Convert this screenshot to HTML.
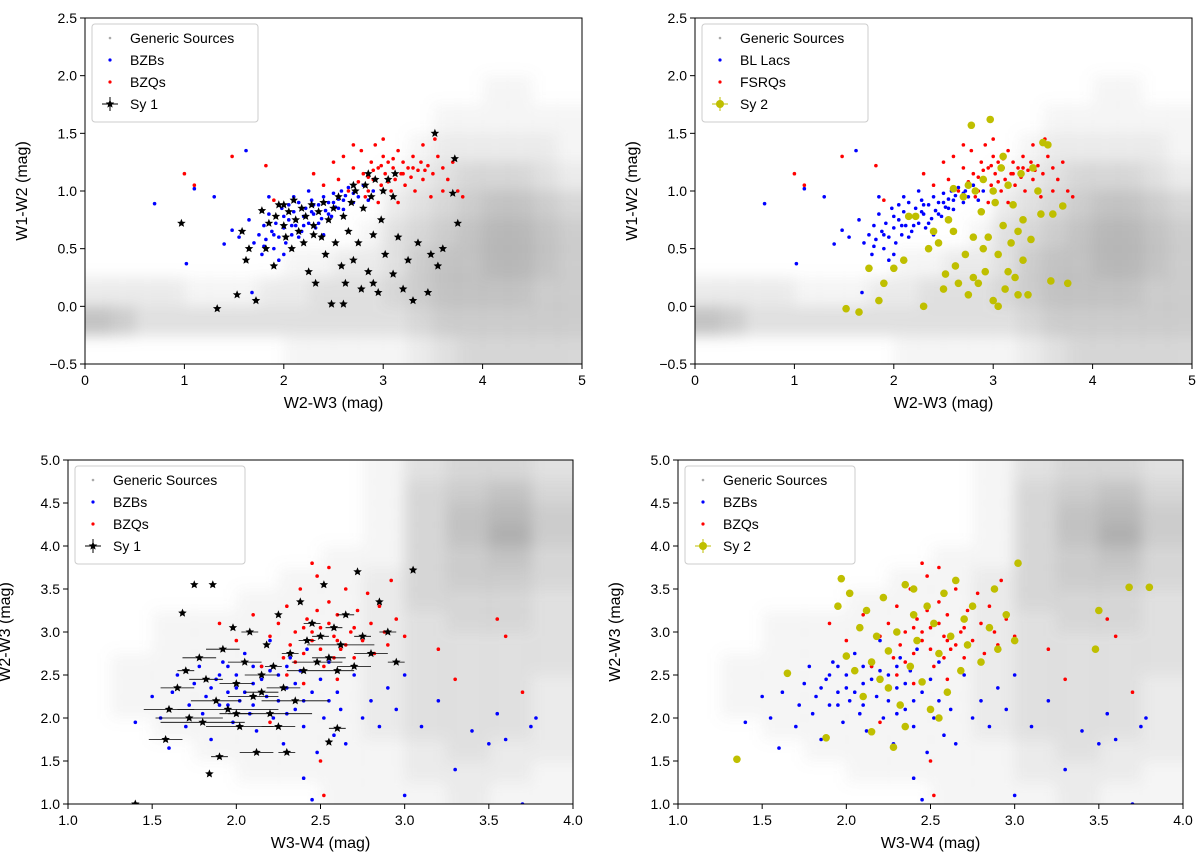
<!DOCTYPE html>
<html><head><meta charset="utf-8"><style>
body{margin:0;background:#fff;}
svg text{font-family:"Liberation Sans","DejaVu Sans",sans-serif;fill:#000;}
</style></head><body>
<svg id="fig" width="1200" height="861" viewBox="0 0 1200 861" xmlns="http://www.w3.org/2000/svg">
<defs><filter id="blur" x="-10%" y="-10%" width="120%" height="120%"><feGaussianBlur stdDeviation="7"/></filter></defs>
</svg>
<script>
// ---- data ----
const genTopDensity=[
[0,0,0,0,0,0,0,0,0,0,0,0,0,0,0,0,0,0,0,0],
[0,0,0,0,0,0,0,0,0,0,0,0,0,0,0,0,0,0,0,0],
[0,0,0,0,0,0,0,0,0,0,0,0,0,0,0,0,1,1,0,0],
[0,0,0,0,0,0,0,0,0,0,0,0,0,0,1,1,1,1,1,1],
[0,0,0,0,0,0,0,0,0,0,0,0,0,1,2,2,2,2,2,1],
[0,0,0,0,0,0,0,0,0,0,0,0,1,2,3,4,4,4,3,2],
[0,0,0,0,0,0,0,0,0,0,0,0,2,3,4,5,6,6,5,4],
[0,0,0,0,0,0,0,0,0,0,0,1,3,4,5,6,7,7,6,5],
[0,0,0,0,0,0,0,0,1,1,2,2,3,5,6,6,7,7,6,5],
[2,2,2,2,1,1,1,2,2,3,3,3,4,5,6,6,6,6,5,5],
[6,5,3,3,3,3,3,3,3,3,3,3,3,4,5,5,5,5,5,5],
[0,0,0,0,0,0,0,0,1,1,1,1,1,2,3,4,4,4,4,4]];
const genBotDensity=[
[0,0,0,0,0,0,0,1,3,4,4,3],
[0,0,0,0,0,0,0,1,4,5,6,4],
[0,0,0,0,0,0,0,1,4,6,7,5],
[0,0,0,0,0,0,0,1,4,6,8,5],
[0,0,0,0,0,0,1,1,4,5,6,4],
[0,0,0,0,0,1,1,2,4,5,5,4],
[0,0,0,0,1,1,1,2,4,4,4,3],
[0,0,1,1,1,1,1,2,3,4,4,3],
[0,0,1,1,1,1,1,2,3,3,3,3],
[0,1,1,1,1,1,1,2,3,3,3,3],
[0,1,1,1,1,1,1,2,3,3,3,2],
[0,1,1,1,1,1,1,2,3,3,3,2],
[0,0,1,1,1,1,1,2,3,3,3,2],
[0,0,0,1,1,1,1,1,2,3,2,2],
[0,0,0,0,1,1,1,1,2,2,2,1],
[0,0,0,0,0,0,1,1,1,2,1,1]];
const bzbTop=[[0.7,0.89],[1.02,0.37],[1.1,1.02],[1.3,0.95],[1.4,0.54],[1.48,0.66],[1.62,1.35],[1.55,0.6],[1.65,0.75],[1.7,0.55],[1.75,0.62],[1.78,0.45],[1.8,0.7],[1.82,0.58],[1.85,0.8],[1.88,0.65],[1.9,0.5],[1.92,0.72],[1.95,0.6],[1.98,0.85],[2.0,0.68],[2.02,0.55],[2.05,0.75],[2.08,0.62],[2.1,0.82],[2.12,0.7],[2.15,0.9],[2.18,0.65],[2.2,0.78],[2.22,0.85],[2.25,0.72],[2.28,0.92],[2.3,0.8],[2.32,0.68],[2.35,0.88],[2.38,0.76],[2.4,0.95],[2.42,0.83],[2.45,0.9],[2.48,0.78],[2.5,0.98],[2.52,0.86],[2.55,0.93],[2.58,1.0],[2.6,0.84],[2.62,0.96],[2.65,1.03],[2.7,0.9],[2.72,1.0],[2.75,0.95],[2.8,1.05],[2.85,0.92],[2.9,1.0],[2.0,0.45],[1.95,0.4],[2.1,0.95],[2.25,1.0],[2.4,0.62],[1.85,0.95],[2.05,0.88],[1.68,0.12],[1.9,0.62],[2.0,0.78],[2.15,0.6],[2.2,0.7],[2.3,0.88],[2.45,0.8],[2.55,0.85],[2.6,0.92],[2.35,0.72],[1.8,0.52],[2.08,0.7],[2.28,0.82],[2.5,0.9],[2.7,0.98]];
const bzqTop=[[1.0,1.15],[1.1,1.05],[1.48,1.3],[1.82,1.22],[1.9,0.92],[2.3,1.15],[2.4,1.05],[2.5,1.25],[2.55,1.1],[2.6,1.3],[2.65,1.0],[2.7,1.2],[2.75,1.08],[2.78,1.35],[2.8,1.15],[2.85,1.0],[2.88,1.25],[2.9,1.1],[2.92,1.4],[2.95,1.2],[2.98,1.05],[3.0,1.3],[3.02,1.15],[3.05,1.25],[3.08,1.0],[3.1,1.2],[3.12,1.1],[3.15,1.35],[3.18,1.15],[3.2,1.25],[3.22,1.05],[3.25,1.2],[3.28,1.12],[3.3,1.3],[3.32,1.0],[3.35,1.18],[3.38,1.25],[3.4,1.1],[3.45,1.22],[3.5,1.15],[3.55,1.3],[3.6,1.2],[3.65,1.1],[3.7,1.25],[3.75,1.0],[3.8,0.95],[3.52,1.45],[3.0,1.45],[2.7,1.4],[2.82,0.95],[3.4,1.4],[3.6,1.0],[3.15,0.9],[2.95,0.9],[3.48,0.95],[2.9,1.18],[3.05,1.08],[3.2,1.15],[3.3,1.2],[2.85,1.12],[3.1,1.28],[3.42,1.18],[2.98,1.22]];
const sy1Top=[[0.97,0.72],[1.33,-0.02],[1.53,0.1],[1.58,0.65],[1.62,0.4],[1.65,0.5],[1.72,0.05],[1.78,0.83],[1.82,0.5],[1.85,0.72],[1.9,0.35],[1.95,0.88],[2.0,0.7],[2.02,0.6],[2.05,0.82],[2.08,0.5],[2.1,0.92],[2.12,0.75],[2.15,0.65],[2.18,0.85],[2.2,0.55],[2.22,0.78],[2.25,0.3],[2.28,0.88],[2.3,0.7],[2.32,0.2],[2.35,0.82],[2.38,0.6],[2.4,0.9],[2.42,0.45],[2.45,0.75],[2.48,0.02],[2.5,0.85],[2.52,0.55],[2.55,0.95],[2.58,0.35],[2.6,0.78],[2.62,0.2],[2.65,0.65],[2.68,0.9],[2.7,0.4],[2.72,1.0],[2.75,0.55],[2.78,0.15],[2.8,0.85],[2.82,1.05],[2.85,0.3],[2.88,0.95],[2.9,0.62],[2.92,1.1],[2.95,0.12],[2.98,0.75],[3.0,1.0],[3.02,0.45],[3.05,1.1],[3.1,0.28],[3.12,1.15],[3.15,0.6],[3.2,0.15],[3.25,0.4],[3.3,0.05],[3.35,0.55],[3.45,0.12],[3.48,0.45],[3.52,1.5],[3.55,0.35],[3.6,0.5],[3.7,0.98],[3.72,1.28],[3.75,0.72],[2.6,0.02],[2.9,0.2],[2.3,0.62],[2.0,0.88],[1.92,0.78],[2.7,1.05],[2.85,1.15],[3.1,0.95]];
const sy2Top=[[1.52,-0.02],[1.65,-0.05],[1.75,0.33],[1.85,0.05],[1.9,0.2],[2.0,0.33],[2.1,0.4],[2.15,0.78],[2.22,0.78],[2.3,0.0],[2.35,0.5],[2.4,0.65],[2.45,0.55],[2.5,0.15],[2.52,0.28],[2.55,0.75],[2.6,0.65],[2.62,0.35],[2.65,0.2],[2.7,0.95],[2.72,0.45],[2.75,0.1],[2.78,1.57],[2.8,0.6],[2.82,1.0],[2.85,0.2],[2.88,0.82],[2.9,1.1],[2.92,0.3],[2.95,0.6],[2.97,1.62],[3.0,0.05],[3.02,0.9],[3.05,0.45],[3.08,1.2],[3.1,0.7],[3.12,0.15],[3.15,1.05],[3.18,0.55],[3.2,0.88],[3.22,0.25],[3.25,0.65],[3.28,1.15],[3.3,0.4],[3.35,0.1],[3.38,0.58],[3.4,1.2],[3.45,1.0],[3.5,1.42],[3.55,1.4],[3.58,0.22],[3.6,0.8],[3.7,0.87],[3.75,0.2],[2.6,1.02],[2.75,1.05],[3.0,1.0],[3.05,0.0],[3.15,0.3],[2.9,0.5],[3.3,0.75],[3.25,0.1],[2.8,0.25],[3.48,0.8],[3.1,1.3]];
const bzbBot=[[1.4,1.95],[1.5,2.25],[1.55,2.0],[1.6,1.65],[1.62,2.3],[1.65,2.5],[1.7,1.9],[1.72,2.15],[1.75,2.4],[1.78,2.6],[1.8,2.05],[1.82,2.25],[1.85,1.75],[1.88,2.45],[1.9,2.15],[1.92,2.65],[1.95,2.3],[1.98,1.95],[2.0,2.5],[2.02,2.2],[2.05,2.75],[2.08,2.05],[2.1,2.4],[2.12,1.85],[2.15,2.6],[2.18,2.25],[2.2,2.9],[2.22,2.0],[2.25,2.5],[2.28,1.7],[2.3,2.35],[2.32,2.7],[2.35,2.1],[2.38,2.55],[2.4,1.9],[2.42,2.8],[2.45,2.3],[2.48,1.6],[2.5,2.45],[2.52,2.0],[2.55,2.65],[2.58,1.8],[2.6,2.3],[2.62,2.1],[2.65,1.7],[2.7,2.5],[2.75,2.0],[2.8,2.2],[2.85,1.9],[2.9,2.35],[2.95,2.1],[3.0,1.1],[3.0,2.5],[3.1,1.9],[3.2,2.2],[3.3,1.4],[3.4,1.85],[3.5,1.7],[3.55,2.05],[3.6,1.75],[3.7,1.0],[3.75,1.9],[3.78,2.0],[2.4,1.3],[2.45,1.05],[1.95,2.6],[2.1,2.6],[2.3,2.05],[2.55,2.2],[1.85,2.35],[1.95,2.15],[2.05,2.3],[2.15,2.45],[2.25,2.2],[2.35,2.4],[2.0,2.35],[2.2,2.55],[1.9,2.5],[2.1,2.15],[2.3,2.6],[2.4,2.2]];
const bzqBot=[[2.15,2.6],[2.2,2.95],[2.25,3.1],[2.28,2.7],[2.3,3.3],[2.32,2.85],[2.35,3.0],[2.38,3.5],[2.4,2.75],[2.42,3.15],[2.45,2.9],[2.48,3.65],[2.5,3.05],[2.52,2.6],[2.55,3.35],[2.58,2.95],[2.6,3.2],[2.62,2.8],[2.65,3.5],[2.68,3.0],[2.7,2.7],[2.72,3.25],[2.75,2.9],[2.78,3.45],[2.8,3.1],[2.82,2.75],[2.85,3.3],[2.88,3.0],[2.9,2.85],[2.95,3.15],[3.0,2.95],[2.92,3.6],[2.55,3.75],[2.45,3.8],[2.3,2.5],[2.4,2.4],[2.6,2.45],[2.2,1.95],[2.5,1.5],[2.0,2.9],[1.9,3.1],[2.1,3.2],[3.2,2.8],[3.55,3.15],[3.6,2.95],[3.7,2.3],[3.3,2.45],[2.52,1.1],[2.35,2.65],[2.65,2.85],[2.45,3.0],[2.5,2.8],[2.55,3.1],[2.6,2.9],[2.4,3.05],[2.7,3.05],[2.48,3.25],[2.58,2.7]];
const sy1Bot=[[1.4,1.0,0],[1.58,1.75,0.1],[1.6,2.1,0.15],[1.65,2.35,0.1],[1.68,3.22,0],[1.72,2.0,0.2],[1.75,3.55,0],[1.78,2.7,0.1],[1.8,1.95,0.25],[1.82,2.45,0.1],[1.84,1.35,0],[1.86,3.55,0],[1.88,2.2,0.15],[1.9,1.55,0.05],[1.92,2.8,0.1],[1.95,2.1,0.3],[1.98,3.05,0],[2.0,2.4,0.1],[2.02,1.9,0.2],[2.05,2.65,0.1],[2.08,3.0,0.05],[2.1,2.25,0.15],[2.12,1.6,0.1],[2.15,2.5,0.1],[2.18,2.85,0],[2.2,2.05,0.25],[2.22,2.6,0.05],[2.25,3.2,0],[2.28,2.35,0.1],[2.3,1.6,0.05],[2.32,2.75,0.05],[2.35,2.2,0.2],[2.38,3.35,0],[2.4,2.55,0.1],[2.42,2.9,0.05],[2.45,3.1,0.05],[2.48,2.65,0.15],[2.5,2.95,0.05],[2.52,3.55,0],[2.55,2.7,0.1],[2.58,3.05,0.05],[2.6,2.55,0.1],[2.62,2.85,0.2],[2.65,3.2,0.05],[2.7,2.6,0.1],[2.72,3.7,0],[2.75,2.95,0.05],[2.8,2.75,0.1],[2.85,3.35,0],[2.9,3.0,0.05],[2.95,2.65,0.05],[3.05,3.72,0],[2.0,2.05,0.1],[2.15,2.3,0.1],[2.25,1.9,0.1],[1.7,2.55,0.05],[2.6,1.88,0.05],[2.55,1.72,0]];
const sy2Bot=[[1.35,1.52],[1.65,2.52],[1.88,1.77],[1.95,3.3],[1.97,3.62],[2.0,2.72],[2.02,3.45],[2.05,2.55],[2.08,3.05],[2.1,2.25],[2.12,3.25],[2.15,1.84],[2.18,2.95],[2.2,2.45],[2.22,3.4],[2.25,2.78],[2.28,1.66],[2.3,3.0],[2.32,2.15],[2.35,3.55],[2.38,2.6],[2.4,3.2],[2.42,2.9],[2.45,2.42],[2.48,3.3],[2.5,2.1],[2.52,3.1],[2.55,2.75],[2.58,3.45],[2.6,2.3],[2.62,2.95],[2.65,3.6],[2.68,2.55],[2.7,3.15],[2.72,2.85],[2.75,3.3],[2.8,2.65],[2.85,3.05],[2.88,3.5],[2.9,2.8],[2.95,3.2],[3.0,2.9],[3.02,3.8],[3.5,3.25],[3.48,2.8],[3.68,3.52],[3.8,3.52],[2.25,2.35],[2.4,3.5],[2.55,2.0],[2.15,2.65],[2.35,1.9]];
const topXTicks=["0","1","2","3","4","5"];
const topYTicks=["−0.5","0.0","0.5","1.0","1.5","2.0","2.5"];
const botXTicks=["1.0","1.5","2.0","2.5","3.0","3.5","4.0"];
const botYTicks=["1.0","1.5","2.0","2.5","3.0","3.5","4.0","4.5","5.0"];

const NS="http://www.w3.org/2000/svg";
const svg=document.getElementById('fig');
function mk(tag,attrs,parent){const e=document.createElementNS(NS,tag);for(const k in attrs)e.setAttribute(k,attrs[k]);(parent||svg).appendChild(e);return e;}
function star(cx,cy,r){let p=[];for(let i=0;i<10;i++){const a=-Math.PI/2+i*Math.PI/5;const rr=i%2?r*0.45:r;p.push((cx+rr*Math.cos(a)).toFixed(1)+","+(cy+rr*Math.sin(a)).toFixed(1));}return p.join(" ");}

function panel(o){
  const g=mk('g',{});
  
  
  const sx=v=>o.x0+(v-o.xmin)/(o.xmax-o.xmin)*(o.x1-o.x0);
  const sy=v=>o.y1-(v-o.ymin)/(o.ymax-o.ymin)*(o.y1-o.y0);
  const clip='c'+o.name;
  const cp=mk('clipPath',{id:clip},g);mk('rect',{x:o.x0,y:o.y0,width:o.x1-o.x0,height:o.y1-o.y0},cp);
  const pg=mk('g',{'clip-path':'url(#'+clip+')'},g);
  const dg=mk('g',{filter:'url(#blur)'},pg);
  // generic density
  const rows=o.dens.length,cols=o.dens[0].length;
  const cw=(o.xmax-o.xmin)/cols,ch=(o.ymax-o.ymin)/rows;
  for(let r=0;r<rows;r++)for(let c=0;c<cols;c++){const v=o.dens[r][c];if(!v)continue;
    let xa=sx(o.xmin+c*cw),xb=sx(o.xmin+(c+1)*cw),ya=sy(o.ymax-r*ch),yb=sy(o.ymax-(r+1)*ch);
    if(c==cols-1)xb+=15; if(c==0)xa-=15; if(r==rows-1)yb+=15; if(r==0)ya-=15;
    const e=mk('rect',{x:xa,y:ya,width:xb-xa+0.5,height:yb-ya+0.5,fill:'#8a8a8a','fill-opacity':Math.min(0.8,v*0.085)},dg);
    
    }
  o.blue.forEach(p=>{const e=mk('circle',{cx:sx(p[0]),cy:sy(p[1]),r:1.8,fill:'#0000ff'},pg);
    
    });
  o.red.forEach(p=>{const e=mk('circle',{cx:sx(p[0]),cy:sy(p[1]),r:1.8,fill:'#ff0000'},pg);
    
    });
  if(o.sy==1){o.agn.forEach(p=>{const x=sx(p[0]),y=sy(p[1]);
      if(p[2]){mk('line',{x1:sx(p[0]-p[2]),x2:sx(p[0]+p[2]),y1:y,y2:y,stroke:'#000','stroke-width':0.8},pg);}
      const e=mk('polygon',{points:star(x,y,4.5),fill:'#000'},pg);
      
      });}
  else{o.agn.forEach(p=>{const e=mk('circle',{cx:sx(p[0]),cy:sy(p[1]),r:3.8,fill:'#bfbf00'},pg);
      
      });}
  const f=mk('rect',{x:o.x0,y:o.y0,width:o.x1-o.x0,height:o.y1-o.y0,fill:'none',stroke:'#000','stroke-width':1},g);
  
  
  o.xt.forEach((t,i)=>{const v=o.xmin+i*(o.xmax-o.xmin)/(o.xt.length-1);const x=sx(v);
    mk('line',{x1:x,x2:x,y1:o.y1,y2:o.y1+5,stroke:'#000'},g);
    const e=mk('text',{x:x,y:o.y1+21,'text-anchor':'middle','font-size':14},g);e.textContent=t;
    
    });
  o.yt.forEach((t,i)=>{const v=o.ymin+i*(o.ymax-o.ymin)/(o.yt.length-1);const y=sy(v);
    mk('line',{x1:o.x0-5,x2:o.x0,y1:y,y2:y,stroke:'#000'},g);
    const e=mk('text',{x:o.x0-8,y:y+5,'text-anchor':'end','font-size':14},g);e.textContent=t;
    
    });
  const xl=mk('text',{x:(o.x0+o.x1)/2,y:o.y1+44,'text-anchor':'middle','font-size':16},g);xl.textContent=o.xlab;
  
  
  const yx=o.x0-58,yy=(o.y0+o.y1)/2;
  const yl=mk('text',{x:yx,y:yy,'text-anchor':'middle','font-size':16,transform:`rotate(-90 ${yx} ${yy})`},g);yl.textContent=o.ylab;
  
  
  const lx=o.x0+7,ly=o.y0+6;
  const lg=mk('g',{},g);
  
  
  mk('rect',{x:lx,y:ly,width:o.lw,height:98,rx:3,fill:'#fff','fill-opacity':0.85,stroke:'#ccc'},lg);
  o.leg.forEach((t,i)=>{const y=ly+14+i*22;const mx=lx+18;
    if(i==0)mk('circle',{cx:mx,cy:y,r:1.3,fill:'#aaa'},lg);
    else if(i==1)mk('circle',{cx:mx,cy:y,r:1.6,fill:'#0000ff'},lg);
    else if(i==2)mk('circle',{cx:mx,cy:y,r:1.6,fill:'#ff0000'},lg);
    else{const col=o.sy==1?'#000':'#bfbf00';mk('line',{x1:mx-8,x2:mx+8,y1:y,y2:y,stroke:col},lg);mk('line',{x1:mx,x2:mx,y1:y-7,y2:y+7,stroke:col},lg);
      if(o.sy==1)mk('polygon',{points:star(mx,y,4.5),fill:'#000'},lg);else mk('circle',{cx:mx,cy:y,r:4,fill:col},lg);}
    const e=mk('text',{x:lx+38,y:y+5,'font-size':14},lg);e.textContent=t;
    
    });
}
panel({name:'panel-top-left',x0:85,x1:582,y0:18,y1:364,xmin:0,xmax:5,ymin:-0.5,ymax:2.5,dens:genTopDensity,blue:bzbTop,red:bzqTop,agn:sy1Top,sy:1,xt:topXTicks,yt:topYTicks,xlab:'W2-W3 (mag)',ylab:'W1-W2 (mag)',leg:['Generic Sources','BZBs','BZQs','Sy 1'],lw:166});
panel({name:'panel-top-right',x0:695,x1:1192,y0:18,y1:364,xmin:0,xmax:5,ymin:-0.5,ymax:2.5,dens:genTopDensity,blue:bzbTop,red:bzqTop,agn:sy2Top,sy:2,xt:topXTicks,yt:topYTicks,xlab:'W2-W3 (mag)',ylab:'W1-W2 (mag)',leg:['Generic Sources','BL Lacs','FSRQs','Sy 2'],lw:166});
panel({name:'panel-bottom-left',x0:68,x1:573,y0:460,y1:804,xmin:1,xmax:4,ymin:1,ymax:5,dens:genBotDensity,blue:bzbBot,red:bzqBot,agn:sy1Bot,sy:1,xt:botXTicks,yt:botYTicks,xlab:'W3-W4 (mag)',ylab:'W2-W3 (mag)',leg:['Generic Sources','BZBs','BZQs','Sy 1'],lw:170});
panel({name:'panel-bottom-right',x0:678,x1:1183,y0:460,y1:804,xmin:1,xmax:4,ymin:1,ymax:5,dens:genBotDensity,blue:bzbBot,red:bzqBot,agn:sy2Bot,sy:2,xt:botXTicks,yt:botYTicks,xlab:'W3-W4 (mag)',ylab:'W2-W3 (mag)',leg:['Generic Sources','BZBs','BZQs','Sy 2'],lw:170});
</script>
</body></html>
